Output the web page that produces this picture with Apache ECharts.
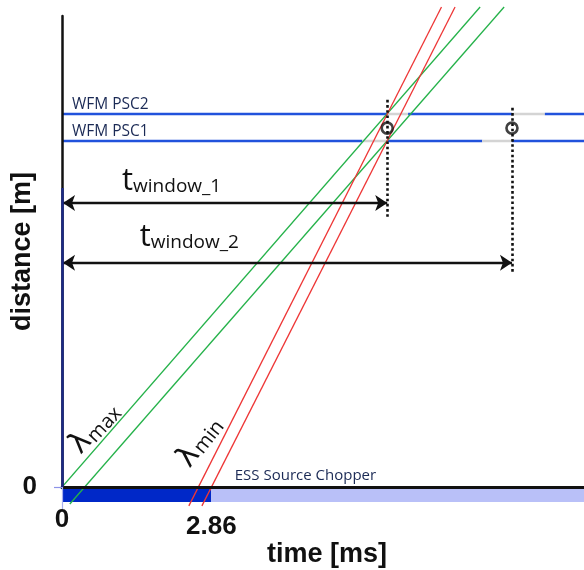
<!DOCTYPE html>
<html>
<head>
<meta charset="utf-8">
<script src="https://cdn.jsdelivr.net/npm/echarts@6/dist/echarts.min.js"></script>
<style>
  html, body { margin: 0; padding: 0; background: #fff; }
  #chart { width: 584px; height: 570px; }
</style>
</head>
<body>
<div id="chart"></div>
<script>
// Axes: time in ms, distance in m
const timeTicks = [0, 2.86];
const distanceTicks = [0];
const timeRange = [0, 10];
const distanceRange = [0, 10];

// ESS source chopper: pulse (dark) followed by the rest of the frame (light)
const sourceSegments = [[0, 2.86, 1], [2.86, 10, 0]];
const sourceBarDepth = 0.32;

// Neutron flight paths [[t0, d0], [t1, d1]]
const lambdaMaxTracks = [
  [[-0.13, -0.17], [8.01, 10.19]],
  [[0.15, -0.36], [8.47, 10.19]]
];
const lambdaMinTracks = [
  [[2.43, -0.40], [7.27, 10.19]],
  [[2.68, -0.40], [7.53, 10.19]]
];

// WFM pulse-shaping choppers
const chopperNames = ['WFM PSC2', 'WFM PSC1'];
const chopperDistance = [7.92, 7.35];
// [start, end, isOpen]
const psc2Segments = [[0, 6.23, 0], [6.23, 6.63, 1], [6.63, 8.62, 0], [8.62, 9.25, 1], [9.25, 10, 0]];
const psc1Segments = [[0, 5.75, 0], [5.75, 6.23, 1], [6.23, 8.05, 0], [8.05, 8.62, 1], [8.62, 10, 0]];

// Time windows of the two chopper openings
const windowNames = ['window_1', 'window_2'];
const windowEnd = [6.23, 8.62];
const windowArrowDistance = [6.03, 4.76];
const windowMarkTop = [8.22, 8.05];
const windowMarkBottom = [5.71, 4.56];
const windowMarkCentre = 7.62;

// Text anchors (data units)
const windowLabelAt = [[1.15, 6.17], [1.49, 4.98]];
const lambdaLabels = ['max', 'min'];
const lambdaSymbolAt = [[0.36, 0.93], [2.43, 0.64]];
const lambdaSubAt = [[0.82, 1.32], [2.82, 1.06]];
const lambdaLabelAngle = [47, 52];
const sourceLabel = 'ESS Source Chopper';
const sourceLabelAt = [3.31, 0.08];
const chopperLabelX = 0.19;

// Colours
const GREEN = '#25b24a';
const RED = '#ee3636';
const BLUE = '#2152dc';
const GAP = '#d4d4d4';
const INK = '#111111';
const LABEL_INK = '#1b2a55';

const chart = echarts.init(document.getElementById('chart'));

function segmentLines(segments, d) {
  return segments.map(s => ({
    coords: [[s[0], d], [s[1], d]],
    lineStyle: { color: s[2] ? GAP : BLUE }
  }));
}

function trackSeries(track, color) {
  return {
    type: 'line',
    data: track,
    showSymbol: false,
    symbol: 'none',
    clip: false,
    z: 3,
    silent: true,
    lineStyle: { color: color, width: 1.3 }
  };
}

const boldFont = { fontFamily: 'Liberation Sans', fontWeight: 'bold', color: INK };

chart.setOption({
  animation: false,
  backgroundColor: '#ffffff',
  grid: { left: 62, right: 0, top: 16, bottom: 83, outerBoundsMode: 'none', containLabel: false },
  xAxis: {
    type: 'value',
    min: timeRange[0],
    max: timeRange[1],
    z: 5,
    splitLine: { show: false },
    axisLine: { show: true, lineStyle: { color: INK, width: 3 } },
    axisTick: { show: true, customValues: [0], length: 22, lineStyle: { color: '#a9b0ee', width: 1.2 } },
    axisLabel: {
      customValues: timeTicks,
      margin: 19,
      verticalAlign: 'top',
      formatter: v => (v === 0 ? '{a|0}' : '{b|' + v.toFixed(2) + '}'),
      rich: {
        a: Object.assign({ fontSize: 26, lineHeight: 28 }, boldFont),
        b: Object.assign({ fontSize: 26, lineHeight: 42 }, boldFont)
      }
    },
    name: 'time [ms]',
    nameLocation: 'middle',
    nameGap: 54,
    nameMoveOverlap: false,
    nameTextStyle: Object.assign({ fontSize: 27, padding: [0, 0, 0, 8] }, boldFont)
  },
  yAxis: {
    type: 'value',
    min: distanceRange[0],
    max: distanceRange[1],
    z: 5,
    splitLine: { show: false },
    axisLine: { show: true, lineStyle: { color: INK, width: 2.5 } },
    axisTick: { show: true, customValues: [0], length: 8, lineStyle: { color: '#8c93e8', width: 1.2 } },
    axisLabel: Object.assign({ customValues: distanceTicks, margin: 25, fontSize: 26 }, boldFont),
    name: 'distance [m]',
    nameLocation: 'middle',
    nameRotate: 90,
    nameGap: 26,
    nameMoveOverlap: false,
    nameTextStyle: Object.assign({ fontSize: 27 }, boldFont)
  },
  series: [
    {
      // source chopper bar under the time axis
      type: 'custom',
      clip: false,
      z: 1,
      silent: true,
      encode: { x: [0, 1] },
      data: sourceSegments,
      renderItem: (params, api) => {
        const a = api.coord([api.value(0), 0]);
        const b = api.coord([api.value(1), -sourceBarDepth]);
        return {
          type: 'rect',
          shape: { x: a[0], y: a[1], width: b[0] - a[0], height: b[1] - a[1] },
          style: { fill: api.value(2) ? '#0028c8' : '#b9c0f8' }
        };
      }
    },
    {
      type: 'lines',
      coordinateSystem: 'cartesian2d',
      z: 2,
      silent: true,
      lineStyle: { width: 2.4, opacity: 1 },
      data: segmentLines(psc2Segments, chopperDistance[0]).concat(segmentLines(psc1Segments, chopperDistance[1]))
    },
    trackSeries(lambdaMaxTracks[0], GREEN),
    trackSeries(lambdaMaxTracks[1], GREEN),
    trackSeries(lambdaMinTracks[0], RED),
    trackSeries(lambdaMinTracks[1], RED),
    {
      // dotted markers at the chopper opening times
      type: 'lines',
      coordinateSystem: 'cartesian2d',
      z: 4,
      silent: true,
      lineStyle: { color: INK, width: 2.6, type: [2.6, 2.6], opacity: 1 },
      data: windowEnd.map((t, i) => ({ coords: [[t, windowMarkTop[i]], [t, windowMarkBottom[i]]] }))
    },
    {
      // time-window arrows
      type: 'lines',
      coordinateSystem: 'cartesian2d',
      z: 4,
      silent: true,
      symbol: ['arrow', 'arrow'],
      symbolSize: 12,
      lineStyle: { color: INK, width: 2.4, opacity: 1 },
      data: windowEnd.map((t, i) => ({ coords: [[0.02, windowArrowDistance[i]], [t, windowArrowDistance[i]]] }))
    },
    {
      type: 'scatter',
      z: 6,
      silent: true,
      symbol: 'circle',
      symbolSize: 11,
      itemStyle: { color: 'rgba(255,255,255,0)', borderColor: INK, borderWidth: 2.6 },
      data: windowEnd.map(t => [t, windowMarkCentre])
    },
    {
      // dark segment of the distance axis
      type: 'lines',
      coordinateSystem: 'cartesian2d',
      z: 6,
      silent: true,
      lineStyle: { color: '#1c2a86', width: 2.5, opacity: 1 },
      data: [{ coords: [[0, 6.35], [0, 0]] }]
    }
  ]
});

function px(p) { return chart.convertToPixel({ gridIndex: 0 }, p); }

const graphics = [];

chopperNames.forEach((name, i) => {
  const p = px([chopperLabelX, chopperDistance[i]]);
  graphics.push({
    type: 'text', x: p[0], y: p[1] - 1, z: 10, silent: true,
    style: { text: name, fontFamily: 'Open Sans', fontSize: 15.5, fill: LABEL_INK, align: 'left', verticalAlign: 'bottom' }
  });
});

{
  const p = px(sourceLabelAt);
  graphics.push({
    type: 'text', x: p[0], y: p[1], z: 10, silent: true,
    style: { text: sourceLabel, fontFamily: 'Open Sans', fontSize: 15, fill: LABEL_INK, align: 'left', verticalAlign: 'bottom' }
  });
}

windowNames.forEach((name, i) => {
  const p = px(windowLabelAt[i]);
  graphics.push({
    type: 'text', x: p[0], y: p[1], z: 10, silent: true,
    style: {
      text: '{t|t}{s|' + name + '}',
      align: 'left', verticalAlign: 'bottom',
      rich: {
        t: { fontFamily: 'Open Sans', fontSize: 31, lineHeight: 34, fill: INK, verticalAlign: 'bottom' },
        s: { fontFamily: 'Open Sans', fontSize: 19, lineHeight: 20, fill: INK, verticalAlign: 'bottom' }
      }
    }
  });
});

lambdaLabels.forEach((name, i) => {
  const rot = lambdaLabelAngle[i] * Math.PI / 180;
  const a = px(lambdaSymbolAt[i]);
  const b = px(lambdaSubAt[i]);
  graphics.push({
    type: 'text', x: a[0], y: a[1], z: 10, silent: true, rotation: rot,
    style: { text: 'λ', fontFamily: 'DejaVu Sans', fontSize: 30, fill: INK, align: 'center', verticalAlign: 'middle' }
  });
  graphics.push({
    type: 'text', x: b[0], y: b[1], z: 10, silent: true, rotation: rot,
    style: { text: name, fontFamily: 'Open Sans', fontSize: 20, fill: INK, align: 'center', verticalAlign: 'middle' }
  });
});

chart.setOption({ graphic: graphics });
</script>
</body>
</html>
